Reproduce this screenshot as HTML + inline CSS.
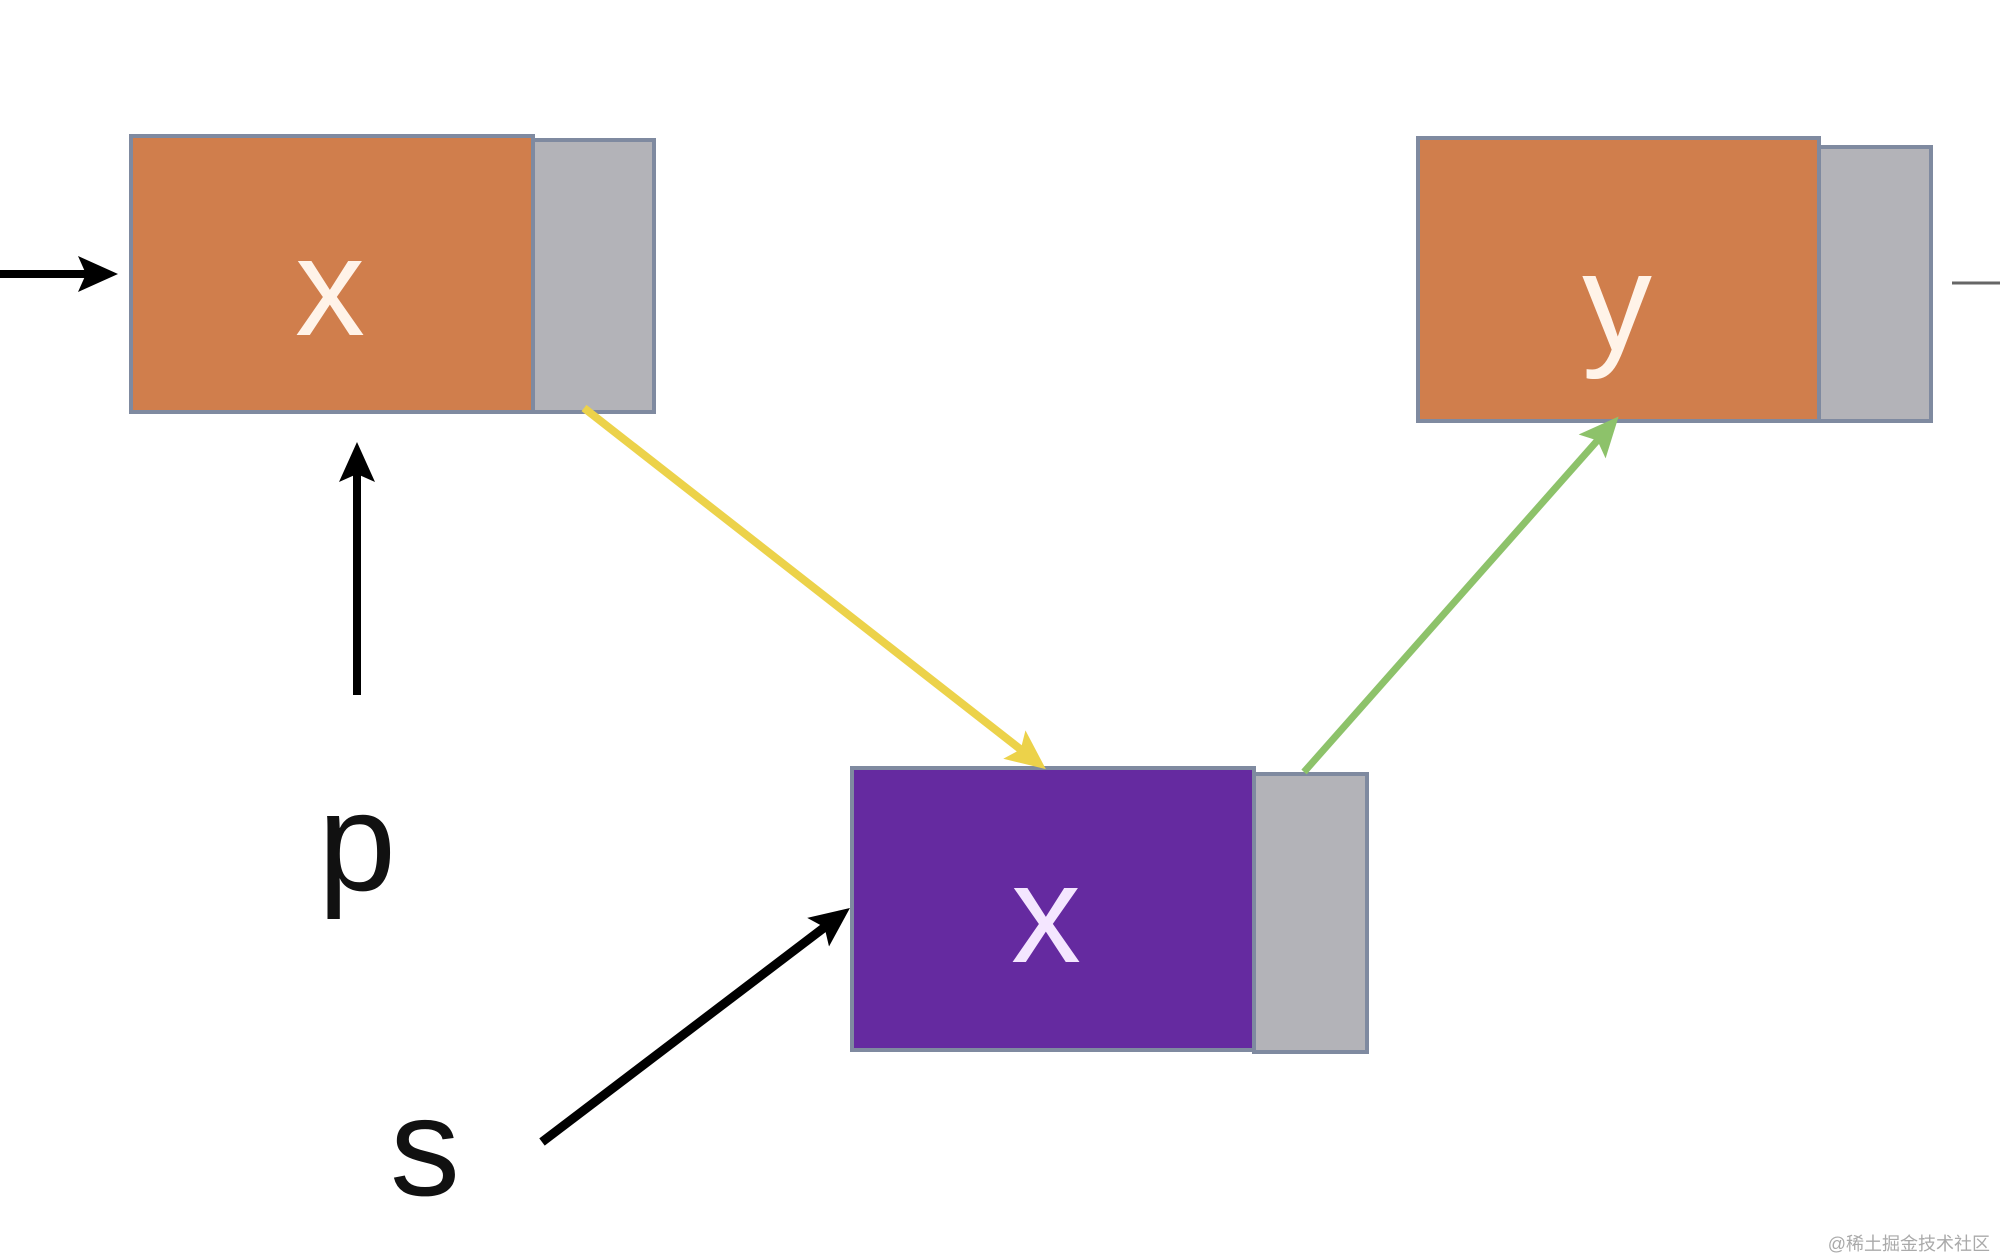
<!DOCTYPE html>
<html><head><meta charset="utf-8"><style>
html,body{margin:0;padding:0;background:#fff;}
body{width:2000px;height:1260px;overflow:hidden;position:relative;}
svg{position:absolute;left:0;top:0;}
</style></head><body>
<svg width="2000" height="1260" viewBox="0 0 2000 1260" xmlns="http://www.w3.org/2000/svg">
<defs>
<marker id="ab" markerWidth="40" markerHeight="40" refX="30" refY="20" orient="auto" markerUnits="userSpaceOnUse"><path d="M0,2 L40,20 L0,38 L8,20 Z" fill="#000"/></marker>
<marker id="ay" markerWidth="40" markerHeight="40" refX="30" refY="20" orient="auto" markerUnits="userSpaceOnUse"><path d="M0,2 L40,20 L0,38 L8,20 Z" fill="#ecd24a"/></marker>
<marker id="ag" markerWidth="40" markerHeight="40" refX="30" refY="20" orient="auto" markerUnits="userSpaceOnUse"><path d="M0,2 L40,20 L0,38 L8,20 Z" fill="#8dc26a"/></marker>
</defs>
<g stroke="#7f8aa0" stroke-width="4">
<rect x="131" y="136" width="402" height="276" fill="#d07e4c"/>
<rect x="533" y="140" width="121" height="272" fill="#b3b3b8"/>
<rect x="1418" y="138" width="401" height="283" fill="#d07e4c"/>
<rect x="1819" y="147" width="112" height="274" fill="#b3b3b8"/>
<rect x="852" y="768" width="402" height="282" fill="#652aa0"/>
<rect x="1254" y="774" width="113" height="278" fill="#b3b3b8"/>
</g>
<g font-family="Liberation Sans, sans-serif" font-size="140" text-anchor="middle">
<text x="330" y="335" fill="#fff3e8">x</text>
<text x="1617" y="350" fill="#fff3e8">y</text>
<text x="1046" y="962" fill="#f4e6ff">x</text>
<text x="357" y="890" fill="#111">p</text>
<text x="425" y="1195" fill="#111">s</text>
</g>
<line x1="0" y1="274" x2="108" y2="274" stroke="#000" stroke-width="8" marker-end="url(#ab)"/>
<line x1="357" y1="695" x2="357" y2="452" stroke="#000" stroke-width="8" marker-end="url(#ab)"/>
<line x1="542" y1="1142" x2="842" y2="914" stroke="#000" stroke-width="9" marker-end="url(#ab)"/>
<line x1="584" y1="408" x2="1038" y2="763" stroke="#ecd24a" stroke-width="8" marker-end="url(#ay)"/>
<line x1="1304" y1="772" x2="1612" y2="424" stroke="#8dc26a" stroke-width="7" marker-end="url(#ag)"/>
<line x1="1952" y1="283" x2="2000" y2="283" stroke="#666" stroke-width="3"/>
<text x="1990" y="1250" text-anchor="end" font-family="Liberation Sans, Noto Sans CJK SC, sans-serif" font-size="18" fill="#aaa">@稀土掘金技术社区</text>
</svg>
</body></html>
